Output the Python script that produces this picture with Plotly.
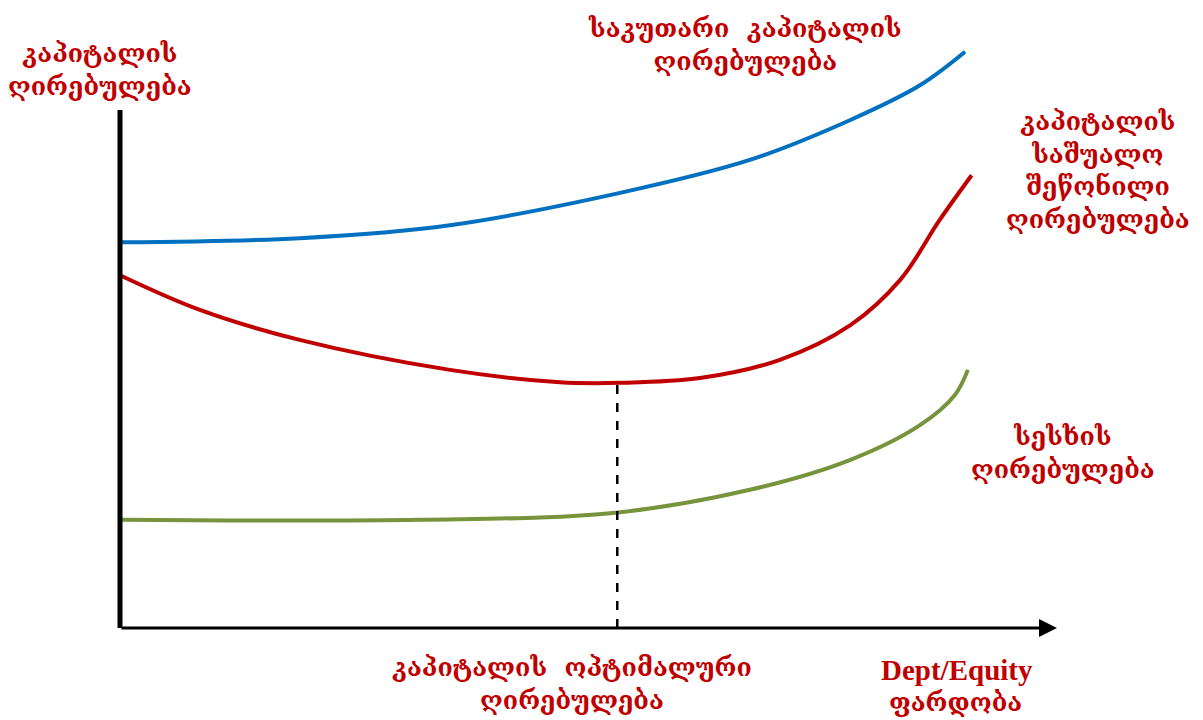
import plotly.graph_objects as go

# debt/equity ratio (arbitrary units)
de_ratio_equity = [0.02, 1.91, 3.51, 5.32, 6.70, 7.77, 8.51, 8.99]
cost_equity = [6.56, 6.63, 6.85, 7.40, 7.96, 8.64, 9.23, 9.80]

de_ratio_wacc = [0.0, 0.85, 1.91, 3.51, 4.68, 5.32, 6.17, 7.02, 7.77, 8.30, 8.72, 9.06]
cost_wacc = [6.00, 5.41, 4.90, 4.39, 4.18, 4.17, 4.25, 4.56, 5.15, 5.92, 6.94, 7.70]

de_ratio_debt = [0.02, 3.19, 5.27, 6.70, 7.77, 8.51, 8.88, 9.02]
cost_debt = [1.84, 1.84, 1.96, 2.35, 2.86, 3.45, 3.96, 4.39]

optimal_x = 5.29
optimal_y = 4.17

W, H = 1203, 720
X0, Y0 = 120, 628      # origin in pixels
SX, SY = 94.0, 58.8    # pixels per unit

RED = "#C00000"
GEO_FONT = "DejaVu Serif"

fig = go.Figure()
fig.add_trace(go.Scatter(x=de_ratio_equity, y=cost_equity, mode="lines",
                         line=dict(color="#0070C0", width=4, shape="spline")))
fig.add_trace(go.Scatter(x=de_ratio_wacc, y=cost_wacc, mode="lines",
                         line=dict(color="#C00000", width=4, shape="spline")))
fig.add_trace(go.Scatter(x=de_ratio_debt, y=cost_debt, mode="lines",
                         line=dict(color="#77933C", width=4, shape="spline")))

# dashed line at optimum
fig.add_trace(go.Scatter(x=[optimal_x, optimal_x], y=[0, optimal_y], mode="lines",
                         line=dict(color="black", width=2.5, dash="dash")))

# axes
fig.add_shape(type="line", x0=0, x1=0, y0=0, y1=(Y0 - 110) / SY,
              line=dict(color="black", width=5))
fig.add_annotation(x=(1057 - X0) / SX, y=0, ax=0, ay=0, axref="x", ayref="y",
                   xref="x", yref="y", showarrow=True, arrowhead=2, arrowsize=1.2,
                   arrowwidth=3, arrowcolor="black", text="")


def px(x, y):
    # pixel -> paper coords
    return x / W, 1 - y / H


labels = [
    ("კაპიტალის<br>ღირებულება", 100, 70),
    ("საკუთარი  კაპიტალის<br>ღირებულება", 745, 45),
    ("კაპიტალის<br>საშუალო<br>შეწონილი<br>ღირებულება", 1098, 170),
    ("სესხის<br>ღირებულება", 1063, 453),
    ("კაპიტალის  ოპტიმალური<br>ღირებულება", 572, 684),
]
for txt, x, y in labels:
    xp, yp = px(x, y)
    fig.add_annotation(x=xp, y=yp, xref="paper", yref="paper", text="<b>" + txt + "</b>",
                       showarrow=False, font=dict(family=GEO_FONT, size=25, color=RED),
                       align="center", xanchor="center", yanchor="middle", borderpad=0)

xp, yp = px(957, 670)
fig.add_annotation(x=xp, y=yp, xref="paper", yref="paper", text="<b>Dept/Equity</b>",
                   showarrow=False, font=dict(family="Liberation Serif", size=29, color=RED),
                   xanchor="center", yanchor="middle", borderpad=0)
xp, yp = px(955, 702)
fig.add_annotation(x=xp, y=yp, xref="paper", yref="paper", text="<b>ფარდობა</b>",
                   showarrow=False, font=dict(family=GEO_FONT, size=25, color=RED),
                   xanchor="center", yanchor="middle", borderpad=0)

fig.update_layout(
    width=W, height=H,
    margin=dict(l=0, r=0, t=0, b=0),
    plot_bgcolor="white", paper_bgcolor="white",
    showlegend=False,
    xaxis=dict(range=[-X0 / SX, (W - X0) / SX], visible=False, fixedrange=True),
    yaxis=dict(range=[-(H - Y0) / SY, Y0 / SY], visible=False, fixedrange=True),
)

fig.write_html("out.html", config={"displayModeBar": False},
               post_script="document.body.style.margin='0';document.body.style.overflow='hidden';")
